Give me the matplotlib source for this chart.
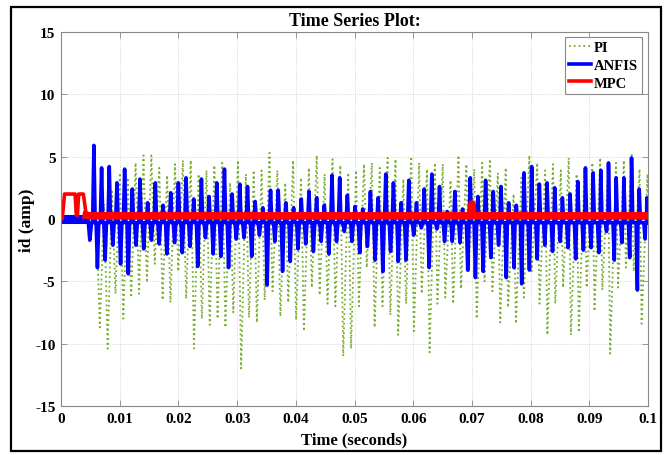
import numpy as np
import matplotlib
matplotlib.use("Agg")
import matplotlib.pyplot as plt
from matplotlib.patches import Rectangle

plt.rcParams['font.family'] = ['Liberation Serif', 'DejaVu Serif']
plt.rcParams['font.weight'] = 'bold'
plt.rcParams['axes.unicode_minus'] = False

# === data (id current in amp, time in s) ===
# PI: dotted green, peaks alternate positive / negative
pi_pos_t = np.linspace(0.0060, 0.0999, 71)
pi_pos = [0.6, 1.2, 2.2,
          3.7, 3.3, 4.5, 5.1, 5.1, 4.1,
          3.5, 4.4, 4.7, 4.7, 3.6, 3.9, 4.3, 4.5, 2.9, 4.7, 3.6, 3.9, 3.9, 5.3,
          3.9, 2.9, 4.7, 3.3, 4.1, 5.1, 3.6, 4.8, 4.3, 3.7, 3.9, 4.4, 4.5,
          4.1, 4.9, 4.8, 3.2, 5.0, 4.5, 4.0, 4.5, 4.4, 3.1, 5.1, 4.4, 4.0,
          4.5, 4.8, 3.7, 4.1, 2.0, 3.3, 5.1, 4.5, 3.9, 4.4, 3.9, 4.9, 3.6, 4.0,
          4.5, 4.9, 4.0, 4.5, 4.7, 5.2, 4.0, 3.6]
pi_neg_t = np.linspace(0.0066, 0.0989, 70)
pi_neg = [-8.7, -10.4, -6.0, -8.0, -6.3, -6.0, -5.1, -3.6, -6.5,
          -6.7, -4.2, -6.4, -10.4, -8.0, -8.5, -8.0, -8.7, -7.5, -12.0, -7.9, -8.3, -6.5,
          -5.8, -7.8, -6.7, -8.1, -9.0, -5.5, -6.1, -6.8, -7.0, -11.0, -10.4, -7.0, -3.9,
          -8.7, -7.0, -7.7, -9.3, -6.8, -9.0, -6.0, -10.7, -6.8, -6.3, -6.8, -5.6, -4.2, -8.0,
          -5.0, -5.8, -8.3, -7.1, -8.4, -6.3, -4.2, -6.8, -9.3, -6.8, -5.5, -9.3, -9.1,
          -5.5, -7.4, -5.7, -10.8, -5.5, -3.9, -4.2, -8.4]

# ANFIS: blue spikes from a baseline near zero
anfis_pos_t = np.linspace(0.0056, 0.0998, 73)
anfis_pos = [5.9, 4.1, 4.2, 2.9, 4.0, 2.4, 3.2, 1.3, 2.9, 1.1,
             2.1, 2.9, 3.3, 1.6, 3.2, 1.8, 2.9, 4.0, 2.0, 2.8, 2.6, 1.4, 0.9,
             2.3, 2.3, 1.3, 0.9, 1.6, 2.2, 1.7, 1.1, 3.5, 3.3, 1.9, 1.0, 0.8, 2.2,
             1.7, 3.6, 2.9, 1.3, 3.1, 1.3, 2.4, 3.6, 2.6, 0.6, 2.2, 0.8, 3.3, 1.8,
             3.1, 2.2, 2.6, 1.3, 1.1, 3.7, 4.2, 2.8, 2.9, 2.5, 1.7, 2.0, 3.0,
             4.1, 3.7, 3.9, 4.5, 3.3, 3.3, 4.9, 2.4, 1.7]
anfis_neg_t = np.linspace(0.0062, 0.0995, 72)
anfis_neg = [-3.9, -3.3, -2.1, -3.6, -4.4, -2.1, -2.4, -1.7, -2.0,
             -2.8, -1.9, -2.7, -2.2, -3.8, -1.5, -2.8, -3.0, -3.9, -1.6, -1.5, -3.0, -1.3, -5.3,
             -1.8, -4.2, -3.4, -2.4, -2.0, -2.6, -1.8, -2.8, -1.8, -1.0, -1.8, -2.7, -2.2,
             -3.3, -4.2, -2.6, -3.4, -3.3, -1.3, -0.7, -3.9, -0.8, -1.8, -1.8, -1.9, -4.1, -4.7,
             -4.2, -3.1, -2.1, -4.7, -3.9, -5.2, -4.1, -3.2, -2.1, -2.6, -1.8, -2.3, -3.2,
             -2.5, -2.3, -2.7, -1.0, -3.3, -1.9, -3.1, -5.7, -1.6]
anfis_base = -0.3
anfis_start_t = [0.0, 0.0046, 0.0049, 0.0052]
anfis_start = [0.0, 0.0, -1.7, -0.3]

# MPC: red, start-up pulses then flat with a small bump near 0.07 s
mpc_t = [0.0, 0.0002, 0.0006, 0.0024, 0.0026, 0.0028, 0.0030, 0.0038, 0.0043,
         0.0050, 0.0698, 0.0700, 0.0702, 0.1]
mpc = [0.0, 0.0, 2.0, 2.0, 0.3, 0.3, 2.0, 2.0, 0.3,
       0.25, 0.25, 1.2, 0.25, 0.25]

# === build the line paths ===
pi_t = np.concatenate([[0.0, 0.0045], pi_pos_t, pi_neg_t, [0.1]])
pi_v = np.concatenate([[0.0, 0.0], pi_pos, pi_neg, [0.0]])
order = np.argsort(pi_t)
pi_t, pi_v = pi_t[order], pi_v[order]

dw = 0.00022
pk_t = np.concatenate([anfis_pos_t, anfis_neg_t])
pk_v = np.concatenate([anfis_pos, anfis_neg])
an_t = np.concatenate([anfis_start_t, pk_t, pk_t - dw, pk_t + dw])
an_v = np.concatenate([anfis_start, pk_v, np.full(len(pk_t), anfis_base), np.full(len(pk_t), anfis_base)])
order = np.argsort(an_t, kind='stable')
an_t, an_v = an_t[order], an_v[order]

# === plot ===
fig = plt.figure(figsize=(6.67, 4.56), dpi=100)
ax = fig.add_axes([0.0915, 0.1075, 0.8801, 0.8202])

ax.plot(pi_t, pi_v, ':', color='#77ac30', lw=1.3, label='PI')
ax.plot(an_t, an_v, '-', color='#0000ff', lw=2.6, label='ANFIS')
ax.plot(anfis_start_t[:2], anfis_start[:2], '-', color='#0000ff', lw=6.5, solid_capstyle='butt')
mpc_t = np.array(mpc_t)
mpc = np.array(mpc)
ax.plot(mpc_t, mpc, '-', color='#ff0000', lw=2.6, label='MPC')
steady = mpc_t >= 0.0043
ax.plot(mpc_t[steady], mpc[steady], '-', color='#ff0000', lw=5.5)

ax.set_xlim(0, 0.1)
ax.set_ylim(-15, 15)
ax.set_xticks(np.arange(0, 0.1001, 0.01))
ax.set_xticklabels(['0', '0.01', '0.02', '0.03', '0.04', '0.05', '0.06', '0.07', '0.08', '0.09', '0.1'])
ax.set_yticks([-15, -10, -5, 0, 5, 10, 15])
ax.tick_params(direction='in', length=4, width=0.6, color='#888888', labelsize=11,
               top=True, right=True, pad=4)
for lab in ax.get_xticklabels() + ax.get_yticklabels():
    lab.set_fontweight('bold')
for sp in ax.spines.values():
    sp.set_color('#888888')
    sp.set_linewidth(0.8)
ax.grid(True, linestyle=':', color='#c8c8c8', linewidth=0.6)

ax.set_title('Time Series Plot:', fontsize=13, fontweight='bold', pad=5)
ax.set_xlabel('Time (seconds)', fontsize=12, fontweight='bold', labelpad=5)
ax.set_ylabel('id (amp)', fontsize=12.5, fontweight='bold')
ax.yaxis.set_label_coords(-0.044, 0.5)

leg = ax.legend(loc='upper right', bbox_to_anchor=(0.99, 0.987), fontsize=10.5,
                handlelength=1.5, handletextpad=0.2, labelspacing=0.3,
                borderpad=0.3, borderaxespad=0, fancybox=False, framealpha=1)
leg.get_frame().set_edgecolor('#888888')
leg.get_frame().set_linewidth(0.8)
for txt in leg.get_texts():
    txt.set_fontweight('bold')

# black frame around the whole figure
fig.patches.append(Rectangle((0.0165, 0.0088), 0.9745, 0.9737, transform=fig.transFigure,
                             fill=False, edgecolor='black', linewidth=1.6))

fig.savefig('out.png', dpi=100)
